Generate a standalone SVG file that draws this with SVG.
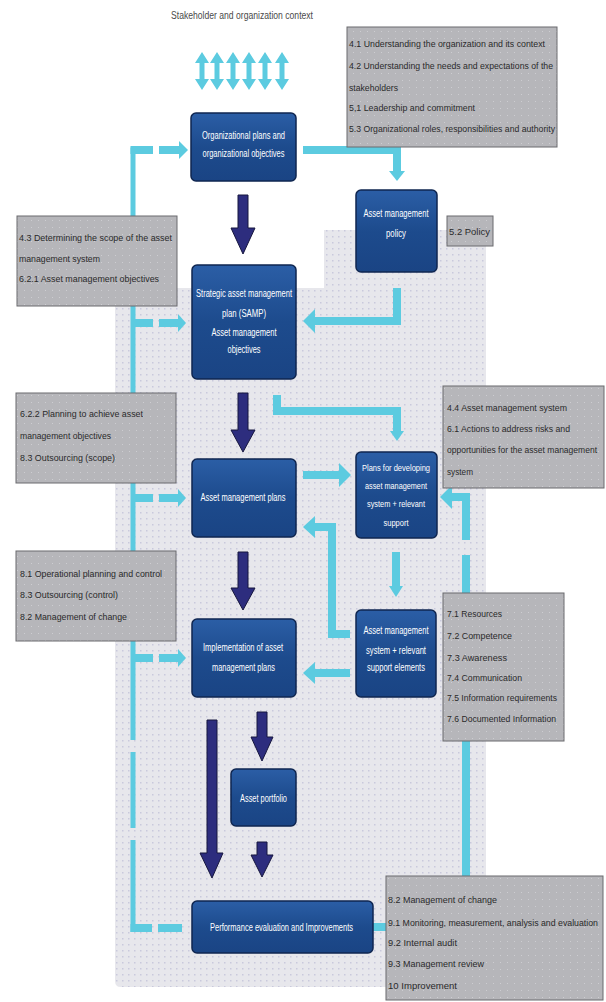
<svg xmlns="http://www.w3.org/2000/svg" width="606" height="1002" viewBox="0 0 606 1002" xml:space="preserve">
<defs>
<pattern id="bgdots" width="6" height="6" patternUnits="userSpaceOnUse"><rect width="6" height="6" fill="#e7e7ec"/><rect x="2" y="2" width="1.5" height="1.5" fill="#c9c9dc"/></pattern>
<pattern id="gdots" width="7" height="7" patternUnits="userSpaceOnUse"><rect width="7" height="7" fill="#b6b6ba"/><rect x="3" y="3" width="1" height="1" fill="#cdcdd1"/></pattern>
<linearGradient id="ng" x1="0" y1="0" x2="0" y2="1"><stop offset="0" stop-color="#2b5ea6"/><stop offset="0.5" stop-color="#1d4b8d"/><stop offset="1" stop-color="#1a4484"/></linearGradient>
</defs>
<style>
.node rect{fill:url(#ng);stroke:#0f2650;stroke-width:1.5}
.nt{font-family:"Liberation Sans",Arial,sans-serif;font-size:10px;fill:#ffffff;text-anchor:middle}
.ns{font-size:9px}
.gbox{fill:url(#gdots);stroke:#6a6a6e;stroke-width:1}
.gt{font-family:"Liberation Sans",Arial,sans-serif;font-size:9.5px;fill:#2a2a2a}
.gs{font-size:8.7px}
.gm{font-size:9px}
.lb{fill:none;stroke:#5ccbe0;stroke-width:8;stroke-linejoin:miter}
.lbd{fill:none;stroke:#5ccbe0;stroke-width:5}
.lbh{fill:#5ccbe0}
.dk{fill:#2d2d7e;stroke:#17173f;stroke-width:1}
.ctx{font-family:"Liberation Sans",Arial,sans-serif;font-size:10px;fill:#4a4a4a}
</style>
<rect width="606" height="1002" fill="#ffffff"/>
<path id="background" d="M324,230 H486 V987 H121 Q115,987 115,981 V288 H324 Z" fill="url(#bgdots)"/>
<text class="ctx" x="171" y="19" textLength="142" lengthAdjust="spacingAndGlyphs">Stakeholder and organization context</text>

<g id="connectors">
<g id="stakeholder-arrows" class="lbh">
<path d="M202,52 L209,63 L204.5,63 L204.5,79 L209,79 L202,90 L195,79 L199.5,79 L199.5,63 L195,63 Z"/>
<path d="M217,52 L224,63 L219.5,63 L219.5,79 L224,79 L217,90 L210,79 L214.5,79 L214.5,63 L210,63 Z"/>
<path d="M233,52 L240,63 L235.5,63 L235.5,79 L240,79 L233,90 L226,79 L230.5,79 L230.5,63 L226,63 Z"/>
<path d="M249,52 L256,63 L251.5,63 L251.5,79 L256,79 L249,90 L242,79 L246.5,79 L246.5,63 L242,63 Z"/>
<path d="M265,52 L272,63 L267.5,63 L267.5,79 L272,79 L265,90 L258,79 L262.5,79 L262.5,63 L258,63 Z"/>
<path d="M282,52 L289,63 L284.5,63 L284.5,79 L289,79 L282,90 L275,79 L279.5,79 L279.5,63 L275,63 Z"/>
</g>
<path class="lbd" d="M133,147.5 V740 M133,752 V828 M133,840 V932"/>
<path class="lb" d="M130.5,150 H153 M159,150 H179 M133,323 H153 M159,323 H178 M133,498 H153 M159,498 H178 M133,658 H153 M159,658 H178 M130.5,928 H152 M158,928 H182"/>
<polygon class="lbh" points="179,141 188,150 179,159"/>
<polygon class="lbh" points="178,314 186,323 178,332"/>
<polygon class="lbh" points="178,489 186,498 178,507"/>
<polygon class="lbh" points="178,649 186,658 178,667"/>
<path class="lb" d="M303,150 H397 V171"/>
<polygon class="lbh" points="389,171 405,171 397,181"/>
<path class="lb" d="M397,288 V321 H315"/>
<polygon class="lbh" points="315,309 315,333 303,321"/>
<path class="lb" d="M277,395 V411 H397 V431"/>
<polygon class="lbh" points="390,431 404,431 397,441"/>
<path class="lb" d="M303,475 H339"/>
<polygon class="lbh" points="339,463 339,487 351,475"/>
<path class="lb" d="M396,552 V586"/>
<polygon class="lbh" points="389,586 403,586 396,597"/>
<path class="lb" d="M350,634 H332 V527 H315"/>
<polygon class="lbh" points="315,516 315,538 303,527"/>
<path class="lb" d="M350,673 H315"/>
<polygon class="lbh" points="315,662 315,684 303,673"/>
<path class="lb" d="M373,927 H466 V555 M466,540 V497 H452"/>
<polygon class="lbh" points="452,485 452,509 440,497"/>
<polygon class="dk" points="238,195 248,195 248,228 255,228 243,254 231,228 238,228"/>
<polygon class="dk" points="238,393 248,393 248,430 255,430 243,452 231,430 238,430"/>
<polygon class="dk" points="238,552 248,552 248,588 255,588 243,610 231,588 238,588"/>
<polygon class="dk" points="207,720 217,720 217,853 223,853 212,878 200,853 207,853"/>
<polygon class="dk" points="257,712 267,712 267,737 273,737 262,761 251,737 257,737"/>
<polygon class="dk" points="257,842 267,842 267,855 273,855 262,877 251,855 257,855"/>
</g>

<g id="node-org" class="node">
<rect x="191" y="113" width="105" height="68" rx="5"/>
<text class="nt" x="243.5" y="139" textLength="83" lengthAdjust="spacingAndGlyphs">Organizational plans and</text>
<text class="nt" x="243.5" y="157" textLength="82" lengthAdjust="spacingAndGlyphs">organizational objectives</text>
</g>
<g id="node-samp" class="node">
<rect x="192" y="265" width="104" height="114" rx="5"/>
<text class="nt" x="244" y="297" textLength="96" lengthAdjust="spacingAndGlyphs">Strategic asset management</text>
<text class="nt" x="244" y="317" textLength="44" lengthAdjust="spacingAndGlyphs">plan (SAMP)</text>
<text class="nt" x="244" y="336" textLength="65" lengthAdjust="spacingAndGlyphs">Asset management</text>
<text class="nt" x="244" y="353" textLength="33" lengthAdjust="spacingAndGlyphs">objectives</text>
</g>
<g id="node-amp" class="node">
<rect x="192" y="459" width="104" height="78" rx="5"/>
<text class="nt" x="243" y="501" textLength="85" lengthAdjust="spacingAndGlyphs">Asset management plans</text>
</g>
<g id="node-impl" class="node">
<rect x="192" y="619" width="104" height="78" rx="5"/>
<text class="nt" x="243" y="651" textLength="80" lengthAdjust="spacingAndGlyphs">Implementation of asset</text>
<text class="nt" x="243.5" y="671" textLength="63" lengthAdjust="spacingAndGlyphs">management plans</text>
</g>
<g id="node-policy" class="node">
<rect x="356" y="190" width="81" height="82" rx="5"/>
<text class="nt" x="396" y="217" textLength="65" lengthAdjust="spacingAndGlyphs">Asset management</text>
<text class="nt" x="396" y="237" textLength="20" lengthAdjust="spacingAndGlyphs">policy</text>
</g>
<g id="node-plans" class="node">
<rect x="356" y="452" width="81" height="86" rx="5"/>
<text class="nt ns" x="396" y="471" textLength="68" lengthAdjust="spacingAndGlyphs">Plans for developing</text>
<text class="nt ns" x="396" y="489" textLength="62" lengthAdjust="spacingAndGlyphs">asset management</text>
<text class="nt ns" x="396" y="507" textLength="58" lengthAdjust="spacingAndGlyphs">system + relevant</text>
<text class="nt ns" x="396" y="526" textLength="25" lengthAdjust="spacingAndGlyphs">support</text>
</g>
<g id="node-support" class="node">
<rect x="356" y="610" width="80" height="87" rx="5"/>
<text class="nt" x="396" y="634" textLength="65" lengthAdjust="spacingAndGlyphs">Asset management</text>
<text class="nt" x="396" y="654" textLength="60" lengthAdjust="spacingAndGlyphs">system + relevant</text>
<text class="nt" x="396" y="671" textLength="58" lengthAdjust="spacingAndGlyphs">support elements</text>
</g>
<g id="node-portfolio" class="node">
<rect x="231" y="769" width="65" height="57" rx="5"/>
<text class="nt" x="263.5" y="802" textLength="47" lengthAdjust="spacingAndGlyphs">Asset portfolio</text>
</g>
<g id="node-perf" class="node">
<rect x="192" y="901" width="181" height="52" rx="5"/>
<text class="nt" x="281.5" y="931" textLength="143" lengthAdjust="spacingAndGlyphs">Performance evaluation and Improvements</text>
</g>

<g id="box-context">
<rect class="gbox" x="347" y="27" width="210" height="120"/>
<text class="gt" x="349" y="47" textLength="196" lengthAdjust="spacingAndGlyphs">4.1  Understanding the organization and its context</text>
<text class="gt" x="349" y="69" textLength="204" lengthAdjust="spacingAndGlyphs">4.2  Understanding the needs and expectations of the</text>
<text class="gt" x="349" y="91" textLength="49" lengthAdjust="spacingAndGlyphs">stakeholders</text>
<text class="gt" x="349" y="111" textLength="126" lengthAdjust="spacingAndGlyphs">5,1  Leadership and commitment</text>
<text class="gt" x="349" y="132" textLength="206" lengthAdjust="spacingAndGlyphs">5.3  Organizational roles, responsibilities and authority</text>
</g>
<g id="box-policy">
<rect class="gbox" x="447" y="216" width="46" height="30"/>
<text class="gt" x="449" y="235" textLength="41" lengthAdjust="spacingAndGlyphs">5.2  Policy</text>
</g>
<g id="box-scope">
<rect class="gbox" x="17" y="216" width="160" height="90"/>
<text class="gt" x="19" y="241" textLength="153" lengthAdjust="spacingAndGlyphs">4.3  Determining the scope of the asset</text>
<text class="gt" x="19" y="262" textLength="81" lengthAdjust="spacingAndGlyphs">management system</text>
<text class="gt" x="19" y="282" textLength="140" lengthAdjust="spacingAndGlyphs">6.2.1  Asset management objectives</text>
</g>
<g id="box-planning">
<rect class="gbox" x="16" y="393" width="160" height="90"/>
<text class="gt" x="20" y="417" textLength="123" lengthAdjust="spacingAndGlyphs">6.2.2  Planning to achieve asset</text>
<text class="gt" x="20" y="439" textLength="91" lengthAdjust="spacingAndGlyphs">management objectives</text>
<text class="gt" x="20" y="461" textLength="95" lengthAdjust="spacingAndGlyphs">8.3  Outsourcing (scope)</text>
</g>
<g id="box-operation">
<rect class="gbox" x="16" y="551" width="160" height="90"/>
<text class="gt" x="20" y="577" textLength="142" lengthAdjust="spacingAndGlyphs">8.1  Operational planning and control</text>
<text class="gt" x="20" y="598" textLength="98" lengthAdjust="spacingAndGlyphs">8.3  Outsourcing (control)</text>
<text class="gt" x="20" y="620" textLength="107" lengthAdjust="spacingAndGlyphs">8.2  Management of change</text>
</g>
<g id="box-system">
<rect class="gbox" x="443" y="386" width="161" height="102"/>
<text class="gt gs" x="447" y="411" textLength="120" lengthAdjust="spacingAndGlyphs">4.4  Asset management system</text>
<text class="gt gs" x="447" y="432" textLength="123" lengthAdjust="spacingAndGlyphs">6.1  Actions to address risks and</text>
<text class="gt gs" x="447" y="453" textLength="150" lengthAdjust="spacingAndGlyphs">opportunities for the asset management</text>
<text class="gt gs" x="447" y="475" textLength="26" lengthAdjust="spacingAndGlyphs">system</text>
</g>
<g id="box-support">
<rect class="gbox" x="443" y="593" width="121" height="148"/>
<text class="gt" x="447" y="617" textLength="55" lengthAdjust="spacingAndGlyphs">7.1 Resources</text>
<text class="gt" x="447" y="639" textLength="65" lengthAdjust="spacingAndGlyphs">7.2  Competence</text>
<text class="gt" x="447" y="661" textLength="60" lengthAdjust="spacingAndGlyphs">7.3  Awareness</text>
<text class="gt" x="447" y="681" textLength="75" lengthAdjust="spacingAndGlyphs">7.4  Communication</text>
<text class="gt" x="447" y="701" textLength="110" lengthAdjust="spacingAndGlyphs">7.5  Information requirements</text>
<text class="gt" x="447" y="722" textLength="109" lengthAdjust="spacingAndGlyphs">7.6  Documented Information</text>
</g>
<g id="box-evaluation">
<rect class="gbox" x="386" y="876" width="217" height="124"/>
<text class="gt gm" x="388" y="903" textLength="109" lengthAdjust="spacingAndGlyphs">8.2  Management of change</text>
<text class="gt gm" x="388" y="926" textLength="210" lengthAdjust="spacingAndGlyphs">9.1  Monitoring, measurement, analysis and evaluation</text>
<text class="gt gm" x="388" y="946" textLength="69" lengthAdjust="spacingAndGlyphs">9.2  Internal audit</text>
<text class="gt gm" x="388" y="967" textLength="96" lengthAdjust="spacingAndGlyphs">9.3  Management review</text>
<text class="gt gm" x="388" y="989" textLength="69" lengthAdjust="spacingAndGlyphs">10   Improvement</text>
</g>
</svg>
